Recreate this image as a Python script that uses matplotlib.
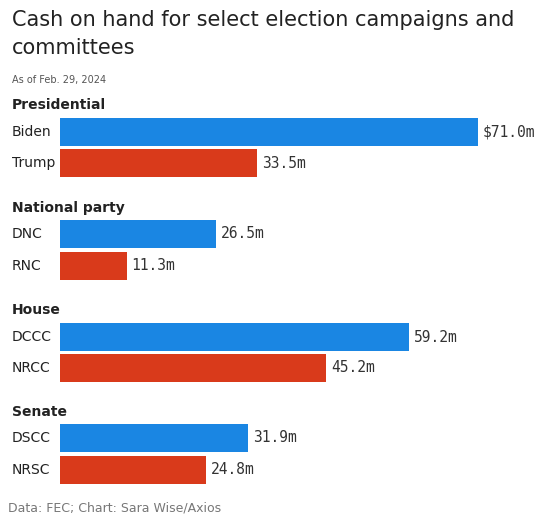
import matplotlib
matplotlib.use("Agg")
import matplotlib.pyplot as plt

groups = ["Presidential", "National party", "House", "Senate"]
labels = [["Biden", "Trump"], ["DNC", "RNC"], ["DCCC", "NRCC"], ["DSCC", "NRSC"]]
values = [[71.0, 33.5], [26.5, 11.3], [59.2, 45.2], [31.9, 24.8]]
value_labels = [["$71.0m", "33.5m"], ["26.5m", "11.3m"], ["59.2m", "45.2m"], ["31.9m", "24.8m"]]
colors = ["#1a86e3", "#d93a1b"]

W, H = 550, 522
fig = plt.figure(figsize=(W/100, H/100), dpi=100)
fig.patch.set_facecolor("white")
x0 = 60
scale = (478 - 60) / 71.0
ax = fig.add_axes([x0/W, 0, (W - x0)/W, 1])
ax.set_xlim(0, (W - x0)/scale)
ax.set_ylim(H, 0)
ax.axis("off")

header_y = [105, 208, 310, 412]
bar_y = [[132, 163], [234, 266], [337, 368], [438, 470]]
for g in range(4):
    fig.text(12/W, 1 - header_y[g]/H, groups[g], fontsize=10, fontweight="bold",
             va="center", ha="left", color="#222222")
    for i in range(2):
        y = bar_y[g][i]
        ax.barh(y, values[g][i], height=28, color=colors[i])
        fig.text(12/W, 1 - y/H, labels[g][i], fontsize=10, va="center", ha="left", color="#222222")
        ax.text(values[g][i] + 5/scale, y, value_labels[g][i], fontsize=10.5,
                family="DejaVu Sans Mono", va="center", ha="left", color="#333333")

fig.text(12/W, 1 - 20/H, "Cash on hand for select election campaigns and", fontsize=15,
         va="center", ha="left", color="#222222")
fig.text(12/W, 1 - 48/H, "committees", fontsize=15, va="center", ha="left", color="#222222")
fig.text(12/W, 1 - 80/H, "As of Feb. 29, 2024", fontsize=7, va="center", ha="left", color="#555555")
fig.text(8/W, 1 - 508/H, "Data: FEC; Chart: Sara Wise/Axios", fontsize=9, va="center",
         ha="left", color="#777777")

fig.savefig("out.png", dpi=100)
